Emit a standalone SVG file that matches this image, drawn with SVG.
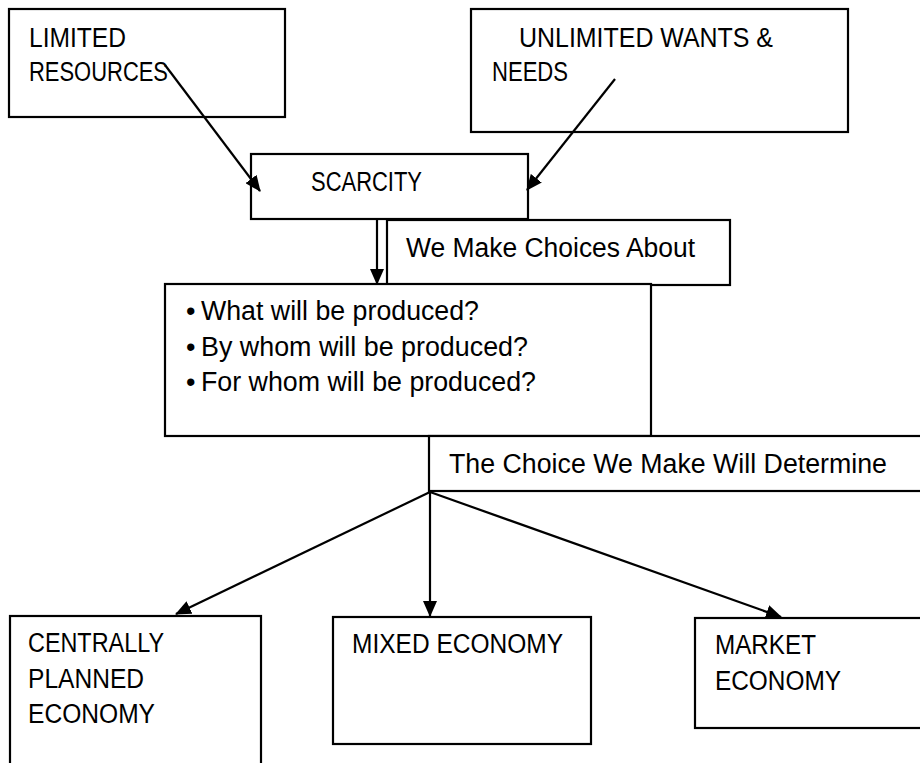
<svg xmlns="http://www.w3.org/2000/svg" width="920" height="763" viewBox="0 0 920 763">
<style>
.box{fill:#fff;stroke:#000;stroke-width:2.2}
.t{font-family:"Liberation Sans",Arial,sans-serif;font-size:27px;fill:#000}
.c{stroke:#000;stroke-width:2.2;fill:none;marker-end:url(#ah)}
</style>
<defs>
<marker id="ah" markerUnits="userSpaceOnUse" markerWidth="16" markerHeight="14" refX="15" refY="7" orient="auto">
<path d="M0,0 L16,7 L0,14 Z" fill="#000"/>
</marker>
</defs>
<rect width="920" height="763" fill="#fff"/>
<g id="limited"><rect class="box" x="9" y="9" width="276" height="108"/><text class="t" x="29" y="47" textLength="97" lengthAdjust="spacingAndGlyphs">LIMITED</text><text class="t" x="29" y="81" textLength="139" lengthAdjust="spacingAndGlyphs">RESOURCES</text></g>
<g id="unlimited"><rect class="box" x="471" y="9" width="377" height="123"/><text class="t" x="519" y="47" textLength="254" lengthAdjust="spacingAndGlyphs">UNLIMITED WANTS &amp;</text><text class="t" x="492" y="81" textLength="76" lengthAdjust="spacingAndGlyphs">NEEDS</text></g>
<g id="scarcity"><rect class="box" x="251" y="154" width="277" height="65"/><text class="t" x="311" y="191" textLength="111" lengthAdjust="spacingAndGlyphs">SCARCITY</text></g>
<g id="choices-about"><rect class="box" x="387" y="220" width="343" height="65"/><text class="t" x="406" y="257" textLength="289" lengthAdjust="spacingAndGlyphs">We Make Choices About</text></g>
<g id="questions"><rect class="box" x="165" y="284" width="486" height="152"/>
<text class="t" x="186" y="320">•</text><text class="t" x="201" y="320" textLength="278" lengthAdjust="spacingAndGlyphs">What will be produced?</text>
<text class="t" x="186" y="356">•</text><text class="t" x="201" y="356" textLength="327" lengthAdjust="spacingAndGlyphs">By whom will be produced?</text>
<text class="t" x="186" y="391">•</text><text class="t" x="201" y="391" textLength="335" lengthAdjust="spacingAndGlyphs">For whom will be produced?</text></g>
<g id="determine"><rect class="box" x="429" y="436" width="494" height="55"/><text class="t" x="449" y="473" textLength="438" lengthAdjust="spacingAndGlyphs">The Choice We Make Will Determine</text></g>
<g id="central"><rect class="box" x="10" y="616" width="251" height="160"/><text class="t" x="28" y="652" textLength="136" lengthAdjust="spacingAndGlyphs">CENTRALLY</text><text class="t" x="28" y="688" textLength="116" lengthAdjust="spacingAndGlyphs">PLANNED</text><text class="t" x="28" y="723" textLength="127" lengthAdjust="spacingAndGlyphs">ECONOMY</text></g>
<g id="mixed"><rect class="box" x="333" y="617" width="258" height="127"/><text class="t" x="352" y="653" textLength="211" lengthAdjust="spacingAndGlyphs">MIXED ECONOMY</text></g>
<g id="market"><rect class="box" x="695" y="618" width="228" height="110"/><text class="t" x="715" y="654" textLength="101" lengthAdjust="spacingAndGlyphs">MARKET</text><text class="t" x="715" y="690" textLength="126" lengthAdjust="spacingAndGlyphs">ECONOMY</text></g>
<g id="connectors">
<line class="c" x1="165" y1="65" x2="260" y2="191"/>
<line class="c" x1="615" y1="79" x2="527" y2="190"/>
<line class="c" x1="377" y1="219" x2="377" y2="284"/>
<line class="c" x1="430" y1="492" x2="176" y2="614"/>
<line class="c" x1="430" y1="492" x2="430" y2="616"/>
<line class="c" x1="430" y1="492" x2="781" y2="617"/>
</g>
</svg>
